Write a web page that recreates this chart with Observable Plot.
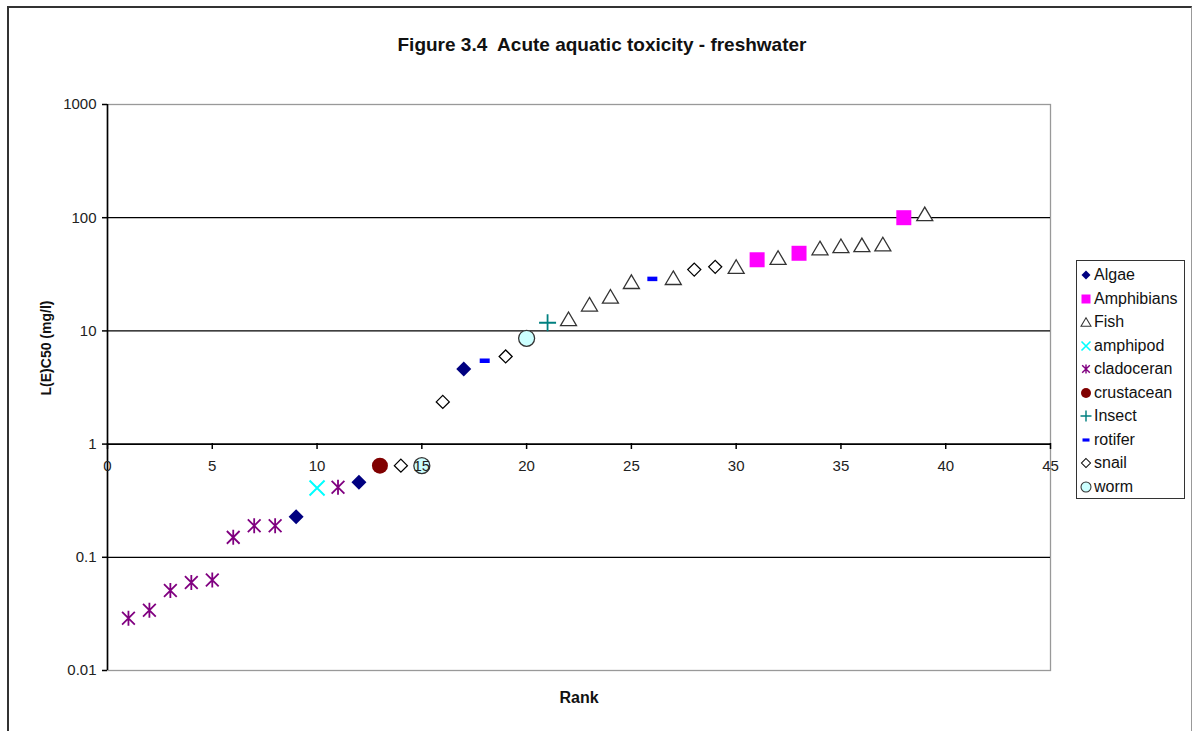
<!DOCTYPE html>
<html>
<head>
<meta charset="utf-8">
<script src="https://cdn.jsdelivr.net/npm/d3@7"></script>
<script src="https://cdn.jsdelivr.net/npm/@observablehq/plot@0.6"></script>
<style>
  body { margin: 0; background: #fff; font-family: "Liberation Sans", Arial, sans-serif; }
  #wrap { position: relative; width: 1192px; height: 731px; overflow: hidden; background: #fff; }
  #frame { position: absolute; left: 7px; top: 6px; width: 1182px; height: 760px;
           border-left: 2px solid #333; border-top: 2px solid #333; border-right: 1px solid #999; }
  #chart { position: absolute; left: 0; top: 0; }
  #title { position: absolute; left: 0; width: 1204px; top: 34px; text-align: center;
           font-weight: bold; font-size: 19px; color: #111; }
  #ylabel { position: absolute; left: 46px; top: 348px; transform: translate(-50%, -50%) rotate(-90deg);
            font-weight: bold; font-size: 14px; white-space: nowrap; color: #111; }
  #xlabel { position: absolute; left: 579px; top: 698px; transform: translate(-50%, -50%);
            font-weight: bold; font-size: 16px; color: #111; }
  #legend { position: absolute; left: 1076px; top: 260px; width: 109px; height: 239px;
            border: 1px solid #333; box-sizing: border-box; background: #fff; }
  .row { position: absolute; left: 0; height: 20px; display: flex; align-items: center; font-size: 16px; color: #111; }
  .row svg { width: 14px; height: 14px; margin-left: 2px; margin-right: 1px; overflow: visible; }
</style>
</head>
<body>
<div id="wrap">
  <div id="frame"></div>
  <div id="chart"></div>
  <div id="title">Figure 3.4&nbsp; Acute aquatic toxicity - freshwater</div>
  <div id="ylabel">L(E)C50 (mg/l)</div>
  <div id="xlabel">Rank</div>
  <div id="legend"></div>
</div>
<script>
// ---- data ----
const ranks = [1,2,3,4,5,6,7,8,9,10,11,12,13,14,15,16,17,18,19,20,21,22,23,24,25,26,27,28,29,30,31,32,33,34,35,36,37,38,39];
const groups = ["cladoceran","cladoceran","cladoceran","cladoceran","cladoceran","cladoceran","cladoceran","cladoceran",
  "Algae","amphipod","cladoceran","Algae","crustacean","snail","worm","snail","Algae","rotifer","snail","worm",
  "Insect","Fish","Fish","Fish","Fish","rotifer","Fish","snail","snail","Fish","Amphibians","Fish","Amphibians",
  "Fish","Fish","Fish","Fish","Amphibians","Fish"];
const values = [0.029,0.034,0.051,0.060,0.063,0.150,0.190,0.190,0.228,0.41,0.415,0.46,0.645,0.645,0.645,2.36,4.6,5.45,5.95,8.6,
  11.8,12.8,17.2,20.2,27.2,28.8,29.5,34.8,36.8,37,42.5,44.5,48.5,54,56.5,57.5,58.5,100,108];
const legendOrder = ["Algae","Amphibians","Fish","amphipod","cladoceran","crustacean","Insect","rotifer","snail","worm"];
const xTicks = [0,5,10,15,20,25,30,35,40,45];
const yTicks = [0.01,0.1,1,10,100,1000];
const yTickLabels = ["0.01","0.1","1","10","100","1000"];
const gridLines = [0.1,10,100];
const axisCross = [1];

const data = ranks.map((r, i) => ({rank: r, group: groups[i], value: values[i]}));

// ---- marker shapes ----
const R = s => Math.sqrt(s / Math.PI);
const shapes = {
  diamond: {draw(c, s) { const r = R(s); c.moveTo(0, -r); c.lineTo(r, 0); c.lineTo(0, r); c.lineTo(-r, 0); c.closePath(); }},
  square: {draw(c, s) { const r = R(s); c.rect(-r, -r, 2 * r, 2 * r); }},
  triangle: {draw(c, s) { const r = R(s); const h = r * 0.85; c.moveTo(0, -h); c.lineTo(r, h); c.lineTo(-r, h); c.closePath(); }},
  times: {draw(c, s) { const r = R(s); c.moveTo(-r, -r); c.lineTo(r, r); c.moveTo(-r, r); c.lineTo(r, -r); }},
  star: {draw(c, s) { const r = R(s); const d = r * 0.85; c.moveTo(-d, -d); c.lineTo(d, d); c.moveTo(-d, d); c.lineTo(d, -d); c.moveTo(0, -r); c.lineTo(0, r); }},
  circle: {draw(c, s) { const r = R(s); c.moveTo(r, 0); c.arc(0, 0, r, 0, 2 * Math.PI); }},
  plus: {draw(c, s) { const r = R(s); c.moveTo(-r, 0); c.lineTo(r, 0); c.moveTo(0, -r); c.lineTo(0, r); }},
  dash: {draw(c, s) { const r = R(s); c.rect(-r, -r * 0.45, 2 * r, r * 0.9); }}
};

const styles = {
  Algae:      {shape: "diamond",  r: 7.5, lr: 4.5, fill: "#000080", stroke: "none", sw: 0},
  Amphibians: {shape: "square",   r: 7.5, lr: 4.5, fill: "#FF00FF", stroke: "none", sw: 0},
  Fish:       {shape: "triangle", r: 8,   lr: 5,   fill: "#fff",    stroke: "#333", sw: 1.3},
  amphipod:   {shape: "times",    r: 7.5, lr: 4.5, fill: "none",    stroke: "#00FFFF", sw: 2},
  cladoceran: {shape: "star",     r: 7.5, lr: 4.5, fill: "none",    stroke: "#800080", sw: 1.8},
  crustacean: {shape: "circle",   r: 8,   lr: 5,   fill: "#800000", stroke: "none", sw: 0},
  Insect:     {shape: "plus",     r: 8.5, lr: 5.5, fill: "none",    stroke: "#008080", sw: 1.8},
  rotifer:    {shape: "dash",     r: 5,   lr: 3.5, fill: "#0000FF", stroke: "none", sw: 0},
  snail:      {shape: "diamond",  r: 6.5, lr: 4.5, fill: "#fff",    stroke: "#000", sw: 1.3},
  worm:       {shape: "circle",   r: 8,   lr: 5,   fill: "#CCFFFF", stroke: "#333", sw: 1.3}
};

const dotMarks = legendOrder.map(g => {
  const st = styles[g];
  return Plot.dot(data.filter(d => d.group === g), {
    x: "rank", y: "value", symbol: shapes[st.shape], r: st.r,
    fill: st.fill, stroke: st.stroke, strokeWidth: st.sw
  });
});

const yLabelOf = d => {
  const i = yTicks.findIndex(t => Math.abs(Math.log10(t) - Math.log10(d)) < 1e-6);
  return i >= 0 ? yTickLabels[i] : "";
};

const chart = Plot.plot({
  width: 1192,
  height: 731,
  marginLeft: 107,
  marginRight: 142,
  marginTop: 104,
  marginBottom: 61,
  style: {fontFamily: "'Liberation Sans', Arial, sans-serif", background: "transparent", overflow: "visible"},
  x: {domain: [0, 45]},
  y: {type: "log", domain: [0.01, 1000]},
  marks: [
    Plot.frame({stroke: "#999", strokeWidth: 1.3}),
    Plot.ruleY(gridLines, {stroke: "#000", strokeWidth: 1.3}),
    Plot.ruleY(axisCross, {stroke: "#000", strokeWidth: 1.6}),
    Plot.ruleX([0], {stroke: "#000", strokeWidth: 1.6}),
    ...dotMarks,
    Plot.axisY(yTicks, {tickSize: 5, tickPadding: 6, tickFormat: yLabelOf,
      fontSize: 15, fill: "#222", stroke: "#000", strokeWidth: 1.5, label: null}),
    Plot.axisX(xTicks, {anchor: "bottom", dy: -227, tickSize: 6, tickPadding: 11, tickFormat: d => String(d),
      fontSize: 15, fill: "#222", stroke: "#000", strokeWidth: 1.5, label: null})
  ]
});
document.getElementById("chart").appendChild(chart);

// ---- legend ----
const legend = document.getElementById("legend");
const svgNS = "http://www.w3.org/2000/svg";
legendOrder.forEach((g, i) => {
  const st = styles[g];
  const row = document.createElement("div");
  row.className = "row";
  row.style.top = (4 + i * 23.5) + "px";
  const svg = document.createElementNS(svgNS, "svg");
  svg.setAttribute("viewBox", "-7 -7 14 14");
  const p = d3.path();
  shapes[st.shape].draw(p, st.lr * st.lr * Math.PI);
  const path = document.createElementNS(svgNS, "path");
  path.setAttribute("d", p.toString());
  path.setAttribute("fill", st.fill);
  path.setAttribute("stroke", st.stroke);
  path.setAttribute("stroke-width", st.sw ? Math.max(1, st.sw * 0.8) : 0);
  svg.appendChild(path);
  const span = document.createElement("span");
  span.textContent = g;
  row.appendChild(svg);
  row.appendChild(span);
  legend.appendChild(row);
});
</script>
</body>
</html>
